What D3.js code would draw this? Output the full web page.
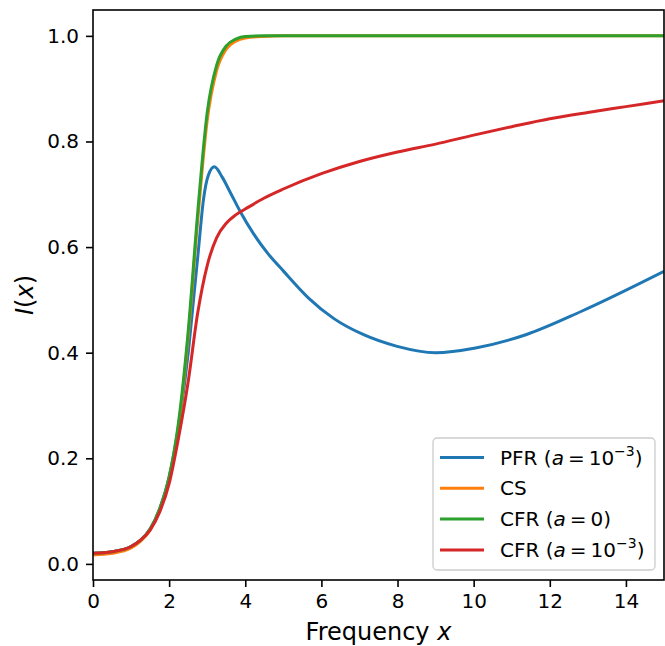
<!DOCTYPE html>
<html lang="en">
<head>
<meta charset="UTF-8">
<title>I(x) vs frequency</title>
<script src="https://d3js.org/d3.v7.min.js"></script>
<style>
    body { margin: 0; background: #fff; }
    text { font-family: "DejaVu Sans", sans-serif; fill: #000; }
</style>
</head>
<body>
<div id="chart"></div>
<script>
// x grid shared by the smooth curves
const xGrid = [0, 0.5, 1, 1.25, 1.5, 1.75, 2, 2.25, 2.5, 2.75, 3, 3.25, 3.5, 3.75, 4, 4.5, 5, 6, 7, 8, 9, 10, 11, 12, 13, 14, 15];

const csVals  = [0.017, 0.020, 0.030, 0.043, 0.064, 0.102, 0.160, 0.262, 0.430, 0.650, 0.840, 0.935, 0.975, 0.990, 0.996, 0.999, 1.0, 1.0, 1.0, 1.0, 1.0, 1.0, 1.0, 1.0, 1.0, 1.0, 1.0];
const cfr0Vals = [0.020, 0.023, 0.033, 0.045, 0.066, 0.104, 0.165, 0.270, 0.440, 0.665, 0.855, 0.945, 0.981, 0.994, 0.999, 1.0, 1.0, 1.0, 1.0, 1.0, 1.0, 1.0, 1.0, 1.0, 1.0, 1.0, 1.0];
const cfrAVals = [0.020, 0.023, 0.033, 0.045, 0.064, 0.098, 0.152, 0.240, 0.345, 0.475, 0.565, 0.618, 0.645, 0.661, 0.672, 0.693, 0.710, 0.739, 0.762, 0.780, 0.795, 0.812, 0.828, 0.843, 0.855, 0.866, 0.877];

// PFR has its own sample points
const pfrX    = [0, 0.5, 1, 1.25, 1.5, 1.75, 2, 2.25, 2.51, 2.64, 2.77, 2.9, 3.03, 3.19, 3.39, 3.61, 3.87, 4.22, 4.57, 5.01, 5.67, 6.32, 7.11, 7.99, 9.0, 10.05, 11.37, 12.82, 15];
const pfrVals = [0.020, 0.023, 0.033, 0.045, 0.066, 0.104, 0.164, 0.262, 0.405, 0.500, 0.595, 0.689, 0.736, 0.752, 0.733, 0.703, 0.667, 0.625, 0.590, 0.554, 0.503, 0.465, 0.434, 0.412, 0.400, 0.409, 0.434, 0.478, 0.554];

const xTicks = [0, 2, 4, 6, 8, 10, 12, 14];
const yTicks = [0.0, 0.2, 0.4, 0.6, 0.8, 1.0];

const series = [
    {name: "PFR", param: "10", exp: "\u22123", color: "#1f77b4", xs: pfrX, ys: pfrVals},
    {name: "CS", param: null, color: "#ff7f0e", xs: xGrid, ys: csVals},
    {name: "CFR", param: "0", exp: null, color: "#2ca02c", xs: xGrid, ys: cfr0Vals},
    {name: "CFR", param: "10", exp: "\u22123", color: "#d62728", xs: xGrid, ys: cfrAVals}
];

const W = 665, H = 646;
const margin = {top: 10, right: 1, bottom: 66, left: 93};
const width = W - margin.left - margin.right;
const height = H - margin.top - margin.bottom;

const svg = d3.select("#chart").append("svg")
    .attr("width", W)
    .attr("height", H);

const g = svg.append("g")
    .attr("transform", `translate(${margin.left},${margin.top})`);

const x = d3.scaleLinear().domain([0, 15]).range([0, width]);
const y = d3.scaleLinear().domain([-0.0305, 1.049]).range([height, 0]);

g.append("clipPath").attr("id", "clip")
    .append("rect").attr("width", width).attr("height", height);

// lines
const line = d3.line()
    .x(d => x(d[0]))
    .y(d => y(d[1]))
    .curve(d3.curveMonotoneX);

series.forEach(s => {
    g.append("path")
        .datum(s.xs.map((v, i) => [v, s.ys[i]]))
        .attr("clip-path", "url(#clip)")
        .attr("fill", "none")
        .attr("stroke", s.color)
        .attr("stroke-width", 3)
        .attr("stroke-linejoin", "round")
        .attr("d", line);
});

// axes
const xAxis = g.append("g")
    .attr("transform", `translate(0,${height})`)
    .call(d3.axisBottom(x).tickValues(xTicks).tickSize(7).tickPadding(7).tickFormat(d3.format("d")));
const yAxis = g.append("g")
    .call(d3.axisLeft(y).tickValues(yTicks).tickSize(7).tickPadding(7).tickFormat(d3.format(".1f")));

[xAxis, yAxis].forEach(a => {
    a.select(".domain").remove();
    a.selectAll("line").attr("stroke", "#000").attr("stroke-width", 1.6);
    a.selectAll("text").attr("font-size", "20px").attr("font-family", "DejaVu Sans").attr("fill", "#000");
});

// frame
g.append("rect")
    .attr("width", width).attr("height", height)
    .attr("fill", "none").attr("stroke", "#000").attr("stroke-width", 1.6);

// axis labels
const xl = svg.append("text")
    .attr("x", margin.left + width / 2)
    .attr("y", 640)
    .attr("text-anchor", "middle")
    .attr("font-size", "24px");
xl.append("tspan").text("Frequency ");
xl.append("tspan").attr("font-style", "italic").text("x");

const yl = svg.append("text")
    .attr("transform", `translate(33,${margin.top + height / 2}) rotate(-90)`)
    .attr("text-anchor", "middle")
    .attr("font-size", "24px");
yl.append("tspan").attr("font-style", "italic").text("I");
yl.append("tspan").text("(");
yl.append("tspan").attr("font-style", "italic").text("x");
yl.append("tspan").text(")");

// legend
const leg = svg.append("g").attr("transform", "translate(433,438)");
leg.append("rect")
    .attr("width", 222).attr("height", 132)
    .attr("rx", 4)
    .attr("fill", "#fff").attr("fill-opacity", 0.8)
    .attr("stroke", "#cccccc").attr("stroke-width", 1.3);

series.forEach((s, i) => {
    const yy = 19.5 + i * 30.8;
    leg.append("line")
        .attr("x1", 7).attr("x2", 51)
        .attr("y1", yy).attr("y2", yy)
        .attr("stroke", s.color).attr("stroke-width", 3);
    const t = leg.append("text")
        .attr("x", 67).attr("y", yy + 7)
        .attr("font-size", "20px");
    t.append("tspan").text(s.name);
    if (s.param !== null) {
        t.append("tspan").text(" (");
        t.append("tspan").attr("font-style", "italic").text("a");
        t.append("tspan").text("\u2009=\u2009" + s.param);
        if (s.exp) {
            t.append("tspan").attr("font-size", "14px").attr("dy", -9).text(s.exp);
            t.append("tspan").attr("dy", 9).text(")");
        } else {
            t.append("tspan").text(")");
        }
    }
});
</script>
</body>
</html>
